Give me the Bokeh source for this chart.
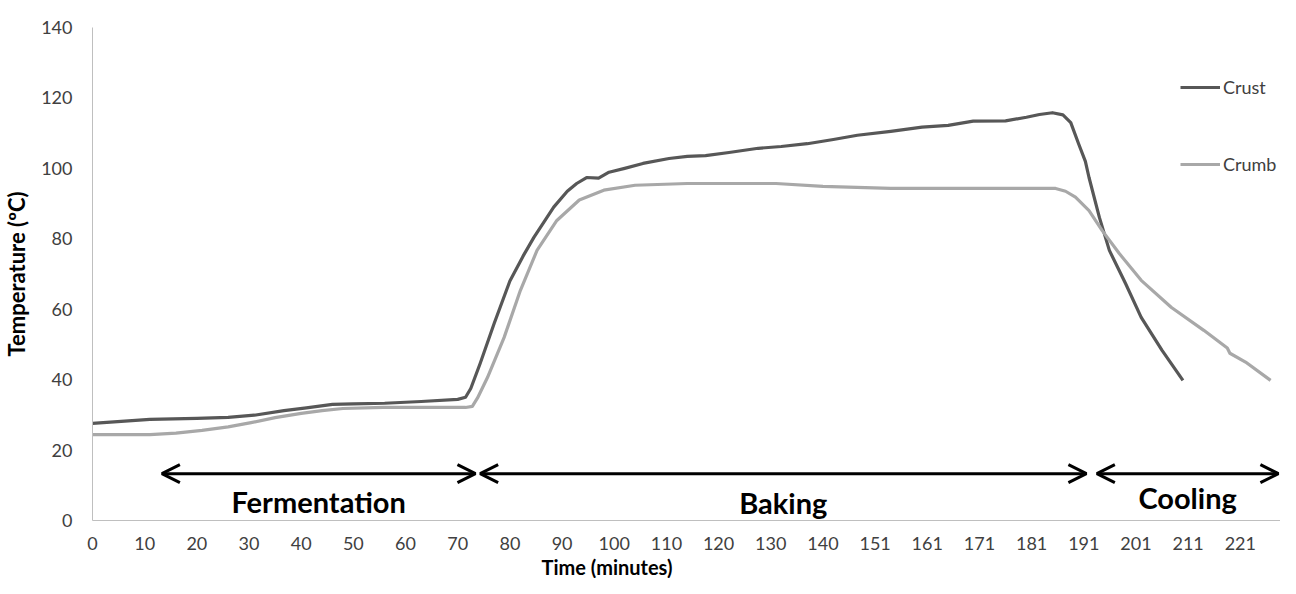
from bokeh.plotting import figure
from bokeh.models import (Range1d, FixedTicker, Arrow, OpenHead, Legend, LegendItem,
                          Title, ColumnDataSource)
from bokeh.core.properties import value
from bokeh.embed import file_html
from bokeh.resources import INLINE

# ---- data (x = sample index on the category axis, y = temperature in ºC) ----
crust_x = [0, 11, 20, 26, 31, 36.7, 41, 46, 50, 56, 63, 70, 71.5, 72.5, 74.3, 77, 80, 82.5,
           84.6, 88.4, 91, 92.8, 94.7, 97, 99, 102, 105.5, 110.5, 114, 117.5, 122, 127.6,
           132, 137, 142, 146.6, 153, 159, 164, 168.8, 175, 179, 181.5, 184, 186, 187.5,
           189, 190.3, 191, 193, 194.9, 198, 201, 205, 209]
crust_y = [27.6, 28.7, 29.0, 29.3, 29.9, 31.2, 32.0, 33.0, 33.1, 33.3, 33.8, 34.4, 35.0, 37.5,
           44.6, 56, 68, 75, 80.4, 89, 93.5, 95.7, 97.4, 97.2, 98.9, 100, 101.4, 102.8, 103.4,
           103.6, 104.5, 105.7, 106.2, 107, 108.2, 109.4, 110.5, 111.7, 112.2, 113.4, 113.5,
           114.5, 115.3, 115.8, 115.2, 113, 107, 102, 97.4, 86, 76.7, 67.3, 57.7, 48.3, 39.8]

crumb_x = [0, 11, 16, 21, 26, 30.4, 35, 40, 44, 48, 55.7, 65, 71.5, 72.8, 73.8, 75.7, 78.9,
           82, 85.2, 89, 93.3, 98, 104, 114, 131, 140, 153, 184.6, 186.5, 188.4, 191, 193.5,
           196.8, 201, 206.8, 213, 217.5, 218, 221, 225.8]
crumb_y = [24.4, 24.4, 24.8, 25.6, 26.6, 27.8, 29.2, 30.4, 31.2, 31.8, 32.1, 32.1, 32.1, 32.4,
           34.8, 40.6, 52, 65.3, 76.7, 85.2, 91, 93.8, 95.2, 95.7, 95.7, 94.9, 94.3, 94.3,
           93.5, 91.8, 88, 82.4, 75.8, 68.2, 60.5, 54, 49, 47.5, 45, 39.8]

tick_positions = [0, 10, 20, 30, 40, 50, 60, 70, 80, 90, 100, 110, 120, 130, 140, 150, 160,
                  170, 180, 190, 200, 210, 220]
tick_labels = ["0", "10", "20", "30", "40", "50", "60", "70", "80", "90", "100", "110",
               "120", "130", "140", "151", "161", "171", "181", "191", "201", "211", "221"]

phase_names = ["Fermentation", "Baking", "Cooling"]
phase_start = [13.3, 74.3, 192.5]
phase_end = [73.4, 190.5, 227.3]
phase_arrow_y = [13.3, 13.3, 13.3]
phase_label_y = [5.4, 5.1, 6.4]

FONT = "Lato"

p = figure(width=1280, height=578, output_backend="svg", toolbar_location=None,
           x_range=Range1d(0, 227.7), y_range=Range1d(0, 140),
           min_border_left=92, min_border_right=0, min_border_top=27, min_border_bottom=57)
p.outline_line_color = None
p.xgrid.visible = False
p.ygrid.visible = False
p.background_fill_color = "white"

r_crust = p.line(crust_x, crust_y, line_color="#575757", line_width=3.2, line_join="round")
r_crumb = p.line(crumb_x, crumb_y, line_color="#a8a8a8", line_width=3.2, line_join="round")

# axes
for ax in (p.xaxis[0], p.yaxis[0]):
    ax.axis_line_color = "#bfbfbf"
    ax.axis_line_width = 1
    ax.major_tick_line_color = None
    ax.minor_tick_line_color = None
    ax.major_tick_out = 0
    ax.major_tick_in = 0
    ax.minor_tick_out = 0
    ax.major_label_text_font = FONT
    ax.major_label_text_font_size = "18px"
    ax.major_label_text_color = "#404040"

p.xaxis.ticker = FixedTicker(ticks=tick_positions)
p.xaxis.major_label_overrides = {t: l for t, l in zip(tick_positions, tick_labels)}
p.xaxis.major_label_standoff = 16

p.yaxis.ticker = FixedTicker(ticks=[0, 20, 40, 60, 80, 100, 120, 140])
p.yaxis.major_label_standoff = 20
p.yaxis.axis_label = "Temperature (ºC)"
p.yaxis.axis_label_text_font = FONT
p.yaxis.axis_label_text_font_style = "bold"
p.yaxis.axis_label_text_font_size = "22px"
p.yaxis.axis_label_text_color = "#000000"
p.yaxis.axis_label_standoff = 8

# x axis title (below the axis, left of centre as in the original)
p.add_layout(Title(text="Time (minutes)", align="left", offset=449, standoff=0,
                   text_font=FONT, text_font_style="bold", text_font_size="20px",
                   text_color="#000000"), "below")

# phase arrows and labels
src = ColumnDataSource(dict(x0=phase_start, x1=phase_end, y=phase_arrow_y))
p.add_layout(Arrow(source=src, x_start="x0", x_end="x1", y_start="y", y_end="y",
                   line_color="black", line_width=3,
                   start=OpenHead(size=18, line_width=3, line_color="black"),
                   end=OpenHead(size=18, line_width=3, line_color="black")))

mid = [(a + b) / 2 for a, b in zip(phase_start, phase_end)]
p.text(x=mid, y=phase_label_y, text=phase_names, text_font=value(FONT),
       text_font_style="bold", text_font_size="29px", text_align="center",
       text_baseline="middle", text_color="black")

legend = Legend(items=[LegendItem(label="Crust", renderers=[r_crust]),
                       LegendItem(label="Crumb", renderers=[r_crumb])],
                location=(1088, 345), orientation="vertical",
                border_line_color=None, background_fill_alpha=0,
                glyph_width=40, glyph_height=20, label_height=20, label_standoff=3,
                spacing=55, padding=0, margin=0, label_text_font=FONT,
                label_text_font_size="18px", label_text_color="#404040")
p.add_layout(legend)

open("out.html", "w").write(file_html(p, INLINE))
